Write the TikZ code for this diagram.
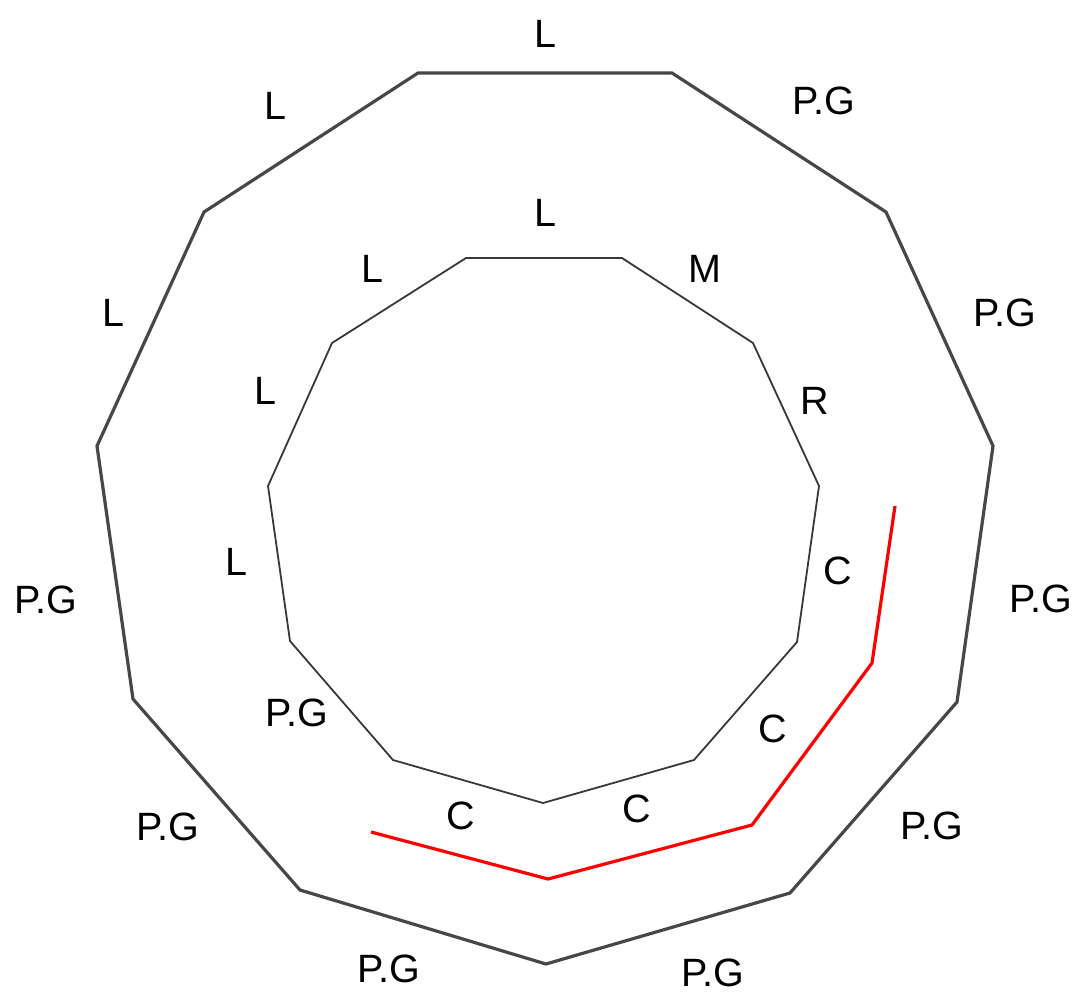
\documentclass[tikz,border=0pt]{standalone}
\usepackage{fontspec}
\setmainfont{Liberation Sans}
\begin{document}
\begin{tikzpicture}[x=1pt,y=-1pt,
  lbl/.style={font=\fontsize{39.5}{42}\selectfont, inner sep=0pt, anchor=center},
  outerline/.style={draw=black!72, line width=3.2pt, line join=miter},
  innerline/.style={draw=black!78, line width=1.8pt, line join=miter},
  redline/.style={draw=red, line width=3.2pt}]
\useasboundingbox (0,0) rectangle (1079,994);
% outer polygon
\coordinate (o1) at (418,73);
\coordinate (o2) at (672,73);
\coordinate (o3) at (886,212);
\coordinate (o4) at (993,446);
\coordinate (o5) at (957,702);
\coordinate (o6) at (790,893);
\coordinate (o7) at (546,964);
\coordinate (o8) at (300,890);
\coordinate (o9) at (133,699);
\coordinate (o10) at (97,446);
\coordinate (o11) at (204,212);
\draw[outerline] (o1)--(o2)--(o3)--(o4)--(o5)--(o6)--(o7)--(o8)--(o9)--(o10)--(o11)--cycle;
% inner polygon
\coordinate (i1) at (466,258);
\coordinate (i2) at (622,258);
\coordinate (i3) at (753,343);
\coordinate (i4) at (819,486);
\coordinate (i5) at (797,642);
\coordinate (i6) at (694,760);
\coordinate (i7) at (543,803);
\coordinate (i8) at (393,760);
\coordinate (i9) at (290,641);
\coordinate (i10) at (268,486);
\coordinate (i11) at (332,343);
\draw[innerline] (i1)--(i2)--(i3)--(i4)--(i5)--(i6)--(i7)--(i8)--(i9)--(i10)--(i11)--cycle;
% red line
\coordinate (r1) at (895,506);
\coordinate (r2) at (872,663);
\coordinate (r3) at (752,825);
\coordinate (r4) at (548,879);
\coordinate (r5) at (371,832);
\draw[redline] (r1)--(r2)--(r3)--(r4)--(r5);
% outer labels
\node[lbl] (ol1) at (545,34) {L};
\node[lbl] (ol2) at (824,101) {P.G};
\node[lbl] (ol3) at (1005,313) {P.G};
\node[lbl] (ol4) at (1041,599) {P.G};
\node[lbl] (ol5) at (932,826) {P.G};
\node[lbl] (ol6) at (713,973) {P.G};
\node[lbl] (ol7) at (389,969) {P.G};
\node[lbl] (ol8) at (168,827) {P.G};
\node[lbl] (ol9) at (46,600) {P.G};
\node[lbl] (ol10) at (113,313) {L};
\node[lbl] (ol11) at (275,106) {L};
% inner labels
\node[lbl] (il1) at (545,213) {L};
\node[lbl] (il2) at (705,269) {M};
\node[lbl] (il3) at (815,401) {R};
\node[lbl] (il4) at (838,571) {C};
\node[lbl] (il5) at (773,729) {C};
\node[lbl] (il6) at (637,809) {C};
\node[lbl] (il7) at (461,816) {C};
\node[lbl] (il8) at (297,713) {P.G};
\node[lbl] (il9) at (236,562) {L};
\node[lbl] (il10) at (265,391) {L};
\node[lbl] (il11) at (372,269) {L};
\end{tikzpicture}
\end{document}
